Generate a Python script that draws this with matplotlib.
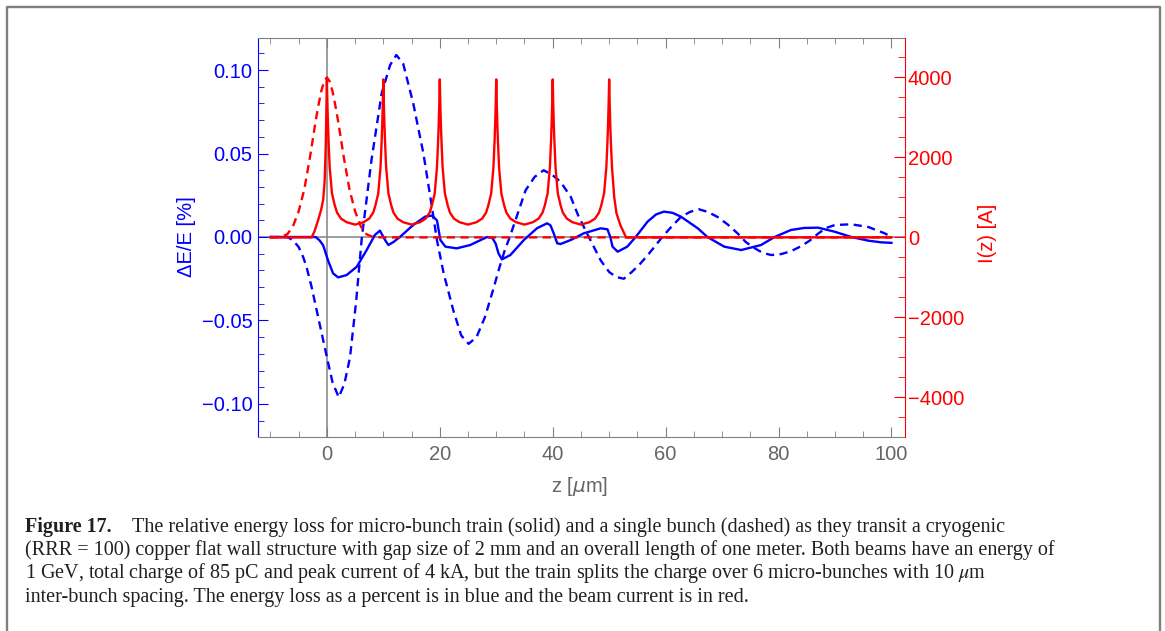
import matplotlib
matplotlib.use("Agg")
import matplotlib.pyplot as plt
from matplotlib.lines import Line2D
from matplotlib.ticker import MultipleLocator, FuncFormatter

plt.rcParams['font.family'] = ['Liberation Sans', 'DejaVu Sans']
plt.rcParams['mathtext.fontset'] = 'dejavusans'

# ---- data ----
# single bunch, energy loss [%] (blue dashed)
z_single_dE = [-10, -7, -6, -5, -4.2, -3.6, -2.7, -1.8, -0.9, 0, 1.0, 2.1, 3.1, 4.1, 5.2, 6.2,
               7.9, 9.7, 11.2, 12.3, 13.5, 15.3, 17.1, 18.6, 19.5, 20.7, 22.4, 23.8, 25.1, 26.5,
               28.0, 29.5, 30.5, 31.5, 32.4, 33.5, 35.2, 36.8, 38.4, 40.0, 41.4, 43.2, 44.5, 46.1,
               47.3, 48.5, 50.0, 51.3, 52.6, 54.0, 55.5, 56.8, 58.0, 59.4, 61.0, 62.7, 64.3, 65.9,
               67.5, 69.2, 71.0, 72.8, 74.2, 75.7, 77.2, 78.7, 80.5, 82.2, 84.0, 85.5, 87.0, 88.5,
               90.0, 92.9, 95.9, 98.8, 100]
dE_single = [0, 0, -0.002, -0.006, -0.012, -0.018, -0.030, -0.044, -0.058, -0.072, -0.087, -0.096,
             -0.088, -0.072, -0.038, 0.0, 0.046, 0.086, 0.103, 0.109, 0.104, 0.080, 0.050, 0.018,
             -0.002, -0.022, -0.044, -0.059, -0.064, -0.060, -0.048, -0.031, -0.019, -0.008, 0.0,
             0.011, 0.028, 0.036, 0.040, 0.037, 0.033, 0.024, 0.013, 0.002, -0.006, -0.014, -0.021,
             -0.024, -0.025, -0.021, -0.016, -0.011, -0.006, 0.0, 0.006, 0.012, 0.015, 0.0166,
             0.015, 0.012, 0.0075, 0.002, -0.003, -0.0066, -0.0095, -0.0108, -0.0102, -0.0085,
             -0.0055, -0.0022, 0.002, 0.0055, 0.0072, 0.0076, 0.006, 0.0022, 0.0]

# bunch train, energy loss [%] (blue solid)
z_train_dE = [-10, -2.0, -1.3, -0.65, 0.2, 1.1, 2.0, 3.5, 5.3, 7.05, 8.5, 9.4, 10.3, 10.9, 11.8,
              13.0, 15.3, 17.4, 18.6, 19.5, 20.1, 21.0, 23.0, 25.4, 26.0, 28.4, 29.3, 29.9, 30.4,
              31.0, 32.5, 34.9, 37.2, 39.0, 39.6, 40.2, 40.8, 41.4, 43.2, 45.5, 48.5, 49.7, 50.2,
              50.6, 51.5, 53.2, 54.7, 56.8, 58.3, 59.7, 61.2, 62.7, 65.7, 67.4, 70.4, 73.4, 76.9,
              79.3, 82.2, 84.5, 87.0, 89.9, 92.9, 95.9, 98.2, 100]
dE_train = [0, 0, -0.002, -0.005, -0.014, -0.0218, -0.0242, -0.0228, -0.0178, -0.0078, 0.0012,
            0.0038, -0.0018, -0.0048, -0.003, 0.0002, 0.0072, 0.0122, 0.0128, 0.010, -0.0018,
            -0.0058, -0.0068, -0.0048, -0.0038, 0.0, -0.0005, -0.004, -0.0098, -0.0134, -0.0108,
            -0.0018, 0.0052, 0.0082, 0.007, 0.002, -0.0038, -0.0042, -0.0018, 0.0022, 0.0052,
            0.0046, 0.0, -0.0058, -0.0088, -0.0058, 0.0, 0.0092, 0.0135, 0.0152, 0.0145, 0.0122,
            0.0052, 0.0, -0.0058, -0.0078, -0.0048, 0.0, 0.0042, 0.0054, 0.0056, 0.0032, 0.0,
            -0.0022, -0.0032, -0.0035]

# single bunch current [A] (red dashed)
z_single_I = [-10, -9, -8, -7, -6, -5, -4, -3, -2.5, -2, -1.5, -1, -0.5, 0, 0.5, 1, 1.5, 2, 2.5,
              3, 4, 5, 6, 7, 8, 9, 10, 100]
I_single = [0, 5, 20, 80, 280, 650, 1200, 2000, 2450, 2900, 3300, 3650, 3900, 4000, 3900, 3650,
            3300, 2900, 2450, 2000, 1200, 650, 280, 80, 20, 5, 0, 0]

# bunch train current [A] (red solid), six micro-bunches 10 um apart
z_train_I = [-10, -2.7, -2.2, -1.55, -1.0, -0.65, -0.4, -0.2, -0.1, 0,
             0.1, 0.2, 0.3, 0.5, 0.9, 1.4, 1.8, 2.5, 3.5, 5, 6.5, 7.5, 8.2, 8.6, 9.1, 9.5, 9.7, 9.8, 9.9, 10,
             10.1, 10.2, 10.3, 10.5, 10.9, 11.4, 11.8, 12.5, 13.5, 15, 16.5, 17.5, 18.2, 18.6, 19.1, 19.5, 19.7, 19.8, 19.9, 20,
             20.1, 20.2, 20.3, 20.5, 20.9, 21.4, 21.8, 22.5, 23.5, 25, 26.5, 27.5, 28.2, 28.6, 29.1, 29.5, 29.7, 29.8, 29.9, 30,
             30.1, 30.2, 30.3, 30.5, 30.9, 31.4, 31.8, 32.5, 33.5, 35, 36.5, 37.5, 38.2, 38.6, 39.1, 39.5, 39.7, 39.8, 39.9, 40,
             40.1, 40.2, 40.3, 40.5, 40.9, 41.4, 41.8, 42.5, 43.5, 45, 46.5, 47.5, 48.2, 48.6, 49.1, 49.5, 49.7, 49.8, 49.9, 50,
             50.1, 50.2, 50.3, 50.5, 50.9, 51.3, 52.0, 53.0, 100]
I_train = [0, 0, 150, 430, 700, 950, 1400, 2300, 3100, 3950,
           3300, 2800, 2400, 1750, 1100, 800, 620, 470, 380, 320, 380, 470, 620, 800, 1100, 1750, 2400, 2800, 3300, 3950,
           3300, 2800, 2400, 1750, 1100, 800, 620, 470, 380, 320, 380, 470, 620, 800, 1100, 1750, 2400, 2800, 3300, 3950,
           3300, 2800, 2400, 1750, 1100, 800, 620, 470, 380, 320, 380, 470, 620, 800, 1100, 1750, 2400, 2800, 3300, 3950,
           3300, 2800, 2400, 1750, 1100, 800, 620, 470, 380, 320, 380, 470, 620, 800, 1100, 1750, 2400, 2800, 3300, 3950,
           3300, 2800, 2400, 1750, 1100, 800, 620, 470, 380, 320, 380, 470, 620, 800, 1100, 1750, 2400, 2800, 3300, 3950,
           3300, 2800, 2400, 1750, 1000, 600, 300, 0, 0]

caption = [
    "The relative energy loss for micro-bunch train (solid) and a single bunch (dashed) as they transit a cryogenic",
    "(RRR = 100) copper flat wall structure with gap size of 2 mm and an overall length of one meter. Both beams have an energy of",
    "1 GeV, total charge of 85 pC and peak current of 4 kA, but the train splits the charge over 6 micro-bunches with 10 $\\mu$m",
    "inter-bunch spacing. The energy loss as a percent is in blue and the beam current is in red.",
]

W, H = 1165, 631
fig = plt.figure(figsize=(W / 100, H / 100), dpi=100)
ax = fig.add_axes([258 / W, 1 - 437 / H, (905 - 258) / W, (437 - 38) / H])
ax2 = ax.twinx()

grey = '#808080'
blue = '#0000ff'
red = '#ff0000'
dash = (3.5, 2.3)

ax.axvline(0, color='#8c8c8c', lw=1.2, zorder=0)
ax.axhline(0, color='#8c8c8c', lw=1.2, zorder=0)

ax.plot(z_single_dE, dE_single, color=blue, lw=1.7, dashes=dash)
ax.plot(z_train_dE, dE_train, color=blue, lw=1.7)
ax2.plot(z_single_I, I_single, color=red, lw=1.7, dashes=dash)
ax2.plot(z_train_I, I_train, color=red, lw=1.7)

ax.set_xlim(-12.2, 102.4)
ax.set_ylim(-0.1198, 0.1192)
ax2.set_ylim(-4990, 4985)

for s in ['top', 'bottom']:
    ax.spines[s].set_color(grey)
ax.spines['left'].set_color(blue)
ax.spines['right'].set_visible(False)
for s in ['top', 'bottom', 'left']:
    ax2.spines[s].set_visible(False)
ax2.spines['right'].set_color(red)

ax.xaxis.set_major_locator(MultipleLocator(20))
ax.xaxis.set_minor_locator(MultipleLocator(5))
ax.yaxis.set_major_locator(MultipleLocator(0.05))
ax.yaxis.set_minor_locator(MultipleLocator(0.01))
ax2.yaxis.set_major_locator(MultipleLocator(2000))
ax2.yaxis.set_minor_locator(MultipleLocator(500))


def minus(s):
    return s.replace('-', '\u2212')


ax.yaxis.set_major_formatter(FuncFormatter(lambda v, p: minus(f'{0 if abs(v) < 1e-9 else v:.2f}')))
ax2.yaxis.set_major_formatter(FuncFormatter(lambda v, p: minus(f'{0 if abs(v) < 1e-6 else v:.0f}')))
ax.xaxis.set_major_formatter(FuncFormatter(lambda v, p: f'{v:.0f}'))

ax.tick_params(axis='x', which='both', direction='in', top=True, color=grey,
               labelcolor='#666666', labelsize=14.5, pad=6)
ax.tick_params(axis='x', which='major', length=7)
ax.tick_params(axis='x', which='minor', length=4)
ax.tick_params(axis='y', which='both', direction='in', color=blue, labelcolor=blue,
               labelsize=14.5, pad=4)
ax.tick_params(axis='y', which='major', length=7)
ax.tick_params(axis='y', which='minor', length=4)
ax2.tick_params(axis='y', which='both', direction='in', color=red, labelcolor=red,
                labelsize=14.5, pad=2)
ax2.tick_params(axis='y', which='major', length=8)
ax2.tick_params(axis='y', which='minor', length=5)

fig.text(186 / W, 1 - 237 / H, 'ΔE/E [%]', color=blue, fontsize=14.5, rotation=90,
         ha='center', va='center')
fig.text(988 / W, 1 - 233 / H, 'I(z) [A]', color=red, fontsize=14.5, rotation=90,
         ha='center', va='center')
fig.text(580 / W, 1 - 487 / H, 'z [$\\mu$m]', color='#666666', fontsize=14.5,
         ha='center', va='center')

# caption
serif = dict(family='Liberation Serif', fontsize=14.5, color='#231f20', va='baseline')
plt.rcParams['mathtext.fontset'] = 'stix'
baselines = [531.7, 555, 578.3, 601.7]
fig.text(25 / W, 1 - baselines[0] / H, 'Figure 17.', fontweight='bold', **serif)
fig.text(1005 / W, 1 - baselines[0] / H, caption[0], ha='right', **serif)
for line, b in zip(caption[1:], baselines[1:]):
    fig.text(25 / W, 1 - b / H, line, **serif)

# page frame
x0, x1, yt = 7 / W, 1160 / W, 1 - 7 / H
fig.add_artist(Line2D([x0, x0, x1, x1], [-0.1, yt, yt, -0.1], transform=fig.transFigure,
                      color='#7f7f7f', lw=1.7))

fig.savefig('out.png', dpi=100)
